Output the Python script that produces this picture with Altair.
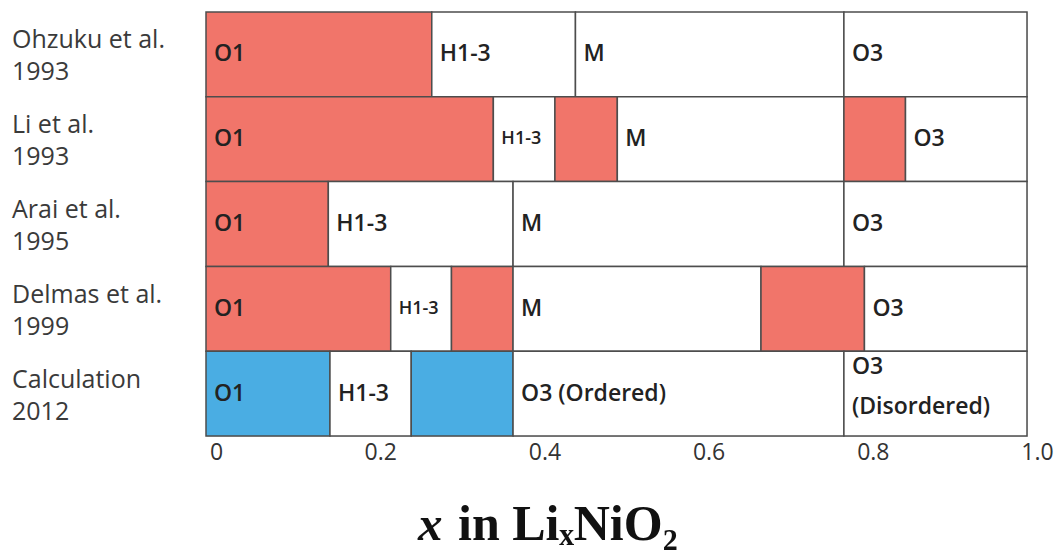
import altair as alt
import pandas as pd

# Studies, top to bottom
studies = [
    "Ohzuku et al.\n1993",
    "Li et al.\n1993",
    "Arai et al.\n1995",
    "Delmas et al.\n1999",
    "Calculation\n2012",
]

# Phase segments along x in LixNiO2 (one entry per cell)
seg_study = [0, 0, 0, 0,
             1, 1, 1, 1, 1, 1,
             2, 2, 2, 2,
             3, 3, 3, 3, 3, 3,
             4, 4, 4, 4, 4]
seg_start = [0.000, 0.275, 0.450, 0.777,
             0.000, 0.350, 0.425, 0.501, 0.777, 0.852,
             0.000, 0.149, 0.374, 0.777,
             0.000, 0.225, 0.299, 0.374, 0.676, 0.802,
             0.000, 0.151, 0.250, 0.374, 0.777]
seg_end = [0.275, 0.450, 0.777, 1.000,
           0.350, 0.425, 0.501, 0.777, 0.852, 1.000,
           0.149, 0.374, 0.777, 1.000,
           0.225, 0.299, 0.374, 0.676, 0.802, 1.000,
           0.151, 0.250, 0.374, 0.777, 1.000]
seg_label = ["O1", "H1-3", "M", "O3",
             "O1", "H1-3", "", "M", "", "O3",
             "O1", "H1-3", "M", "O3",
             "O1", "H1-3", "", "M", "", "O3",
             "O1", "H1-3", "", "O3 (Ordered)", "O3\n(Disordered)"]
seg_shade = ["exp", "none", "none", "none",
             "exp", "none", "exp", "none", "exp", "none",
             "exp", "none", "none", "none",
             "exp", "none", "exp", "none", "exp", "none",
             "calc", "none", "calc", "none", "none"]

x_ticks = [0, 0.2, 0.4, 0.6, 0.8, 1.0]
title_var = "x"
title_rest = "in Li\u2093NiO\u2082"

segments = pd.DataFrame({
    "study": [studies[i] for i in seg_study],
    "start": seg_start,
    "end": seg_end,
    "label": seg_label,
    "shade": seg_shade,
})
rows = pd.DataFrame({"study": studies})

y_enc = alt.Y("study:N", sort=studies, axis=None,
              scale=alt.Scale(paddingInner=0, paddingOuter=0))

x_axis = alt.Axis(
    values=x_ticks,
    labelExpr="datum.value == 0 ? '0' : format(datum.value, '.1f')",
    ticks=False, domain=False, grid=False, title=None,
    labelFont="Open Sans", labelFontSize=23, labelColor="#333333",
    labelPadding=5, labelOffset=10, labelFlush=False,
)

cells = alt.Chart(segments).mark_rect(stroke="#4d4d4d", strokeWidth=1.5).encode(
    x=alt.X("start:Q", scale=alt.Scale(domain=[0, 1], nice=False, zero=False), axis=x_axis),
    x2="end:Q",
    y=y_enc,
    fill=alt.Fill("shade:N", legend=None,
                  scale=alt.Scale(domain=["exp", "calc", "none"],
                                  range=["#F1756A", "#4AADE3", "#FFFFFF"])),
)

text_style = dict(align="left", baseline="middle", dx=8, font="Open Sans",
                  fontWeight=600, color="#222222", lineBreak="\n", lineHeight=40)
text_enc = dict(
    x="start:Q",
    y=y_enc,
    text="label:N",
    size=alt.Size("fs:Q", scale=None, legend=None),
)

# single-line phase names; narrow cells get a smaller font
cell_text = alt.Chart(segments).transform_filter(
    "indexof(datum.label, '\\n') < 0"
).transform_calculate(
    fs="datum.end - datum.start < 0.09 ? 18 : 23"
).mark_text(**text_style).encode(**text_enc)

# two-line phase names, lifted so the pair sits in the cell
cell_text2 = alt.Chart(segments).transform_filter(
    "indexof(datum.label, '\\n') >= 0"
).transform_calculate(
    fs="23"
).mark_text(dy=-27, **text_style).encode(**text_enc)

row_text = alt.Chart(rows).mark_text(
    align="left", baseline="middle", font="Open Sans", fontSize=25,
    color="#3a3a3a", lineBreak="\n", lineHeight=32, dy=-14,
).encode(
    x=alt.value(-194),
    y=y_enc,
    text="study:N",
)

title_x = alt.Chart(pd.DataFrame({"t": [title_var]})).mark_text(
    align="left", baseline="alphabetic", font="Liberation Serif",
    fontSize=49, fontWeight="bold", fontStyle="italic", color="#111111",
).encode(x=alt.value(212), y=alt.value(528), text="t:N")

title_rest_mark = alt.Chart(pd.DataFrame({"t": [title_rest]})).mark_text(
    align="left", baseline="alphabetic", font="Liberation Serif",
    fontSize=50, fontWeight="bold", color="#111111",
).encode(x=alt.value(252), y=alt.value(528), text="t:N")

chart = alt.layer(cells, cell_text, cell_text2, row_text, title_x, title_rest_mark).properties(
    width=821, height=424,
    autosize=alt.AutoSizeParams(type="none"),
    padding={"left": 206, "top": 12, "right": 27, "bottom": 114},
).configure_view(stroke=None).configure(background="white")

chart.save("out.html", embed_options={"renderer": "svg", "actions": False})
